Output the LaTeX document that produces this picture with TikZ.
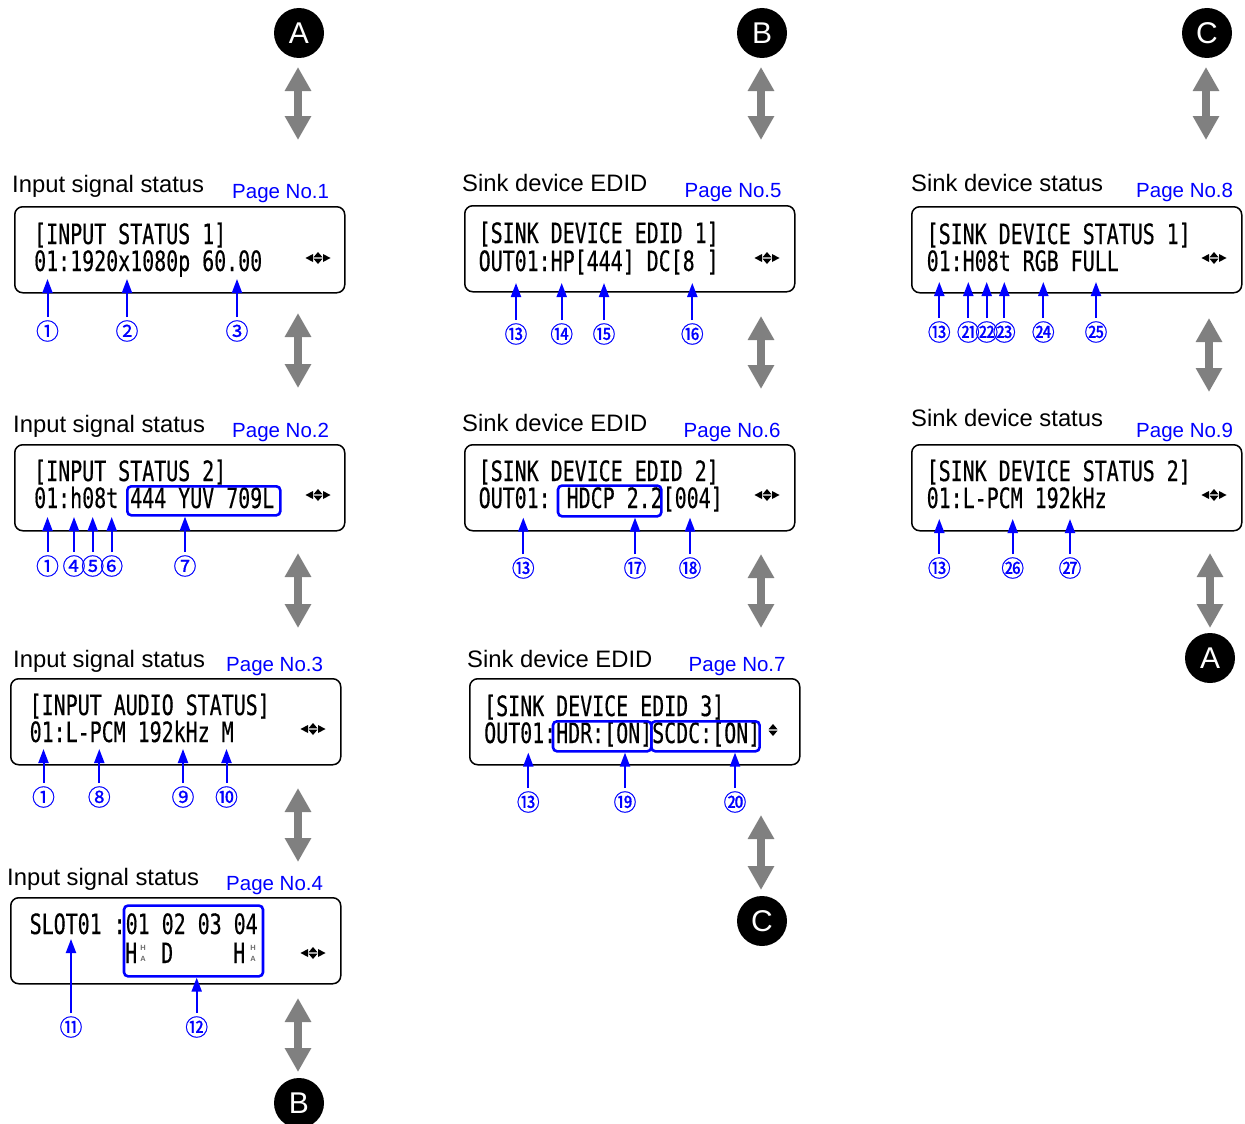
\documentclass[tikz,border=0pt]{standalone}
\usepackage{fontspec}
\setmainfont{Liberation Sans}
\newfontfamily\lcdfont[FakeStretch=0.712,FakeBold=0.4,WordSpace={1,0,0}]{DejaVu Sans Mono}
\newfontfamily\cjk[FakeBold=0.6]{Noto Sans CJK JP}
\usepackage{tikz}
\usetikzlibrary{positioning,arrows.meta,calc}
\definecolor{ksblue}{HTML}{0000FF}
\definecolor{ksgray}{HTML}{808080}
\definecolor{kssmall}{HTML}{6A6A6A}

\begin{document}
\begin{tikzpicture}[
  x=1pt, y=-1pt,
  lcd/.style={draw, line width=1.5pt, rounded corners=8pt, anchor=north west,
    minimum width=330pt, minimum height=86pt, inner sep=0pt},
  lcdtxt/.style={anchor=base west, inner sep=0pt, font=\lcdfont\fontsize{28}{28}\selectfont},
  title/.style={anchor=base west, inner sep=0pt, font=\fontsize{23.8}{24}\selectfont},
  pageno/.style={anchor=base west, inner sep=0pt, text=ksblue, font=\fontsize{20.5}{21}\selectfont},
  hlbox/.style={draw=ksblue, line width=2.6pt, rounded corners=4pt, anchor=north west, inner sep=0pt},
  num/.style={text=ksblue, inner sep=0pt, font=\cjk\fontsize{23}{23}\selectfont},
  ptr/.style={ksblue, line width=2pt, -{Triangle[width=10pt,length=14pt]}},
  letter/.style={circle, fill=black, text=white, minimum size=50pt, inner sep=0pt,
    font=\fontsize{30}{30}\selectfont},
  updown/.style={ksgray, line width=7.5pt,
    {Triangle[width=25pt,length=24pt]}-{Triangle[width=25pt,length=24pt]}},
  hatxt/.style={text=kssmall, align=center, inner sep=0pt, font=\bfseries\fontsize{7.5}{11}\selectfont},
  navall/.pic={
    \fill (-12.5,0) -- (-5,-4) -- (-5,4) -- cycle;
    \fill (-4.5,-0.7) -- (0,-6) -- (4.5,-0.7) -- cycle;
    \fill (-4.5,0.7) -- (0,6) -- (4.5,0.7) -- cycle;
    \fill (12.5,0) -- (5,-4) -- (5,4) -- cycle;},
  navud/.pic={
    \fill (-4.5,-0.7) -- (0,-6) -- (4.5,-0.7) -- cycle;
    \fill (-4.5,0.7) -- (0,6) -- (4.5,0.7) -- cycle;},
  ]
  \useasboundingbox (0,0) rectangle (1245,1124);

  % jump markers
  \node[letter] (la1) at (299,33) {A};
  \node[letter] (lb1) at (762,33) {B};
  \node[letter] (lc1) at (1207,33) {C};
  \node[letter] (lb2) at (299,1103) {B};
  \node[letter] (lc2) at (762,921) {C};
  \node[letter] (la2) at (1210,658) {A};
  \foreach \x/\a/\b in {298/67/140, 298/313/388, 298/553/628, 298/788/862, 298/998/1072,
    761/67/140, 761/316/389, 761/554/628, 761/815/890,
    1206/67/140, 1209/318/392, 1210/553/628}
    \draw[updown] (\x,\a) -- (\x,\b);

  % page 1
  \node[lcd] (p1) at (14,206) {};
  \node[title] (p1t) at (12,192) {Input signal status};
  \node[pageno] (p1p) at (232,198) {Page No.1};
  \node[lcdtxt] (p1a) at (34,244) {[INPUT STATUS 1]};
  \node[lcdtxt] (p1b) at (34,271) {01:1920x1080p 60.00};
  \pic at (318,258) {navall};
  \coordinate (p1tip) at (0,279);
  \foreach \x/\n [count=\i] in {47.5/①,127/②,237/③} {
    \node[num] (p1n\i) at (\x,331) {\n};
    \draw[ptr] ([yshift=14pt]p1n\i.center) -- (p1n\i |- p1tip);
  }

  % page 2
  \node[lcd] (p2) at (14,444) {};
  \node[title] (p2t) at (13,432) {Input signal status};
  \node[pageno] (p2p) at (232,437) {Page No.2};
  \node[lcdtxt] (p2a) at (34,481) {[INPUT STATUS 2]};
  \node[lcdtxt] (p2b) at (34,508) {01:h08t 444 YUV 709L};
  \node[hlbox, minimum width=153pt, minimum height=29pt] (p2hl) at (126,485) {};
  \pic at (318,495) {navall};
  \coordinate (p2tip) at (0,517);
  \foreach \x/\n [count=\i] in {47.5/①,74/④,92.7/⑤,111.7/⑥} {
    \node[num] (p2n\i) at (\x,566) {\n};
    \draw[ptr] ([yshift=14pt]p2n\i.center) -- (p2n\i |- p2tip);
  }
  \node[num] (p2n5) at (185,566) {⑦};
  \draw[ptr] ([yshift=14pt]p2n5.center) -- (p2n5 |- p2hl.south);

  % page 3
  \node[lcd] (p3) at (10,678) {};
  \node[title] (p3t) at (13,667) {Input signal status};
  \node[pageno] (p3p) at (226,671) {Page No.3};
  \node[lcdtxt] (p3a) at (29.5,715) {[INPUT AUDIO STATUS]};
  \node[lcdtxt] (p3b) at (29.5,742) {01:L-PCM 192kHz M};
  \pic at (313,729) {navall};
  \coordinate (p3tip) at (0,749);
  \foreach \x/\n [count=\i] in {43.5/①,99.3/⑧,183/⑨,226.5/⑩} {
    \node[num] (p3n\i) at (\x,797) {\n};
    \draw[ptr] ([yshift=14pt]p3n\i.center) -- (p3n\i |- p3tip);
  }

  % page 4
  \node[lcd] (p4) at (10,897) {};
  \node[title] (p4t) at (7,885) {Input signal status};
  \node[pageno] (p4p) at (226,890) {Page No.4};
  \node[lcdtxt] (p4a) at (29.5,934) {SLOT01 :01 02 03 04};
  \node[lcdtxt] (p4h1) at (125,963) {H};
  \node[hatxt] (p4ha1) at (143,953) {H\\A};
  \node[lcdtxt] (p4d) at (161,963) {D};
  \node[lcdtxt] (p4h2) at (233,963) {H};
  \node[hatxt] (p4ha2) at (253,953) {H\\A};
  \node[hlbox, minimum width=139pt, minimum height=70.7pt] (p4hl) at (122.7,904.3) {};
  \pic at (313,953) {navall};
  \coordinate (p4tip) at (0,939);
  \node[num] (p4n1) at (71,1027) {⑪};
  \draw[ptr] ([yshift=14pt]p4n1.center) -- (p4n1 |- p4tip);
  \node[num] (p4n2) at (196.7,1027) {⑫};
  \draw[ptr] ([yshift=14pt]p4n2.center) -- (p4n2 |- p4hl.south);

  % page 5
  \node[lcd] (p5) at (464,205) {};
  \node[title] (p5t) at (462,191) {Sink device EDID};
  \node[pageno] (p5p) at (684.5,197) {Page No.5};
  \node[lcdtxt] (p5a) at (478.5,243) {[SINK DEVICE EDID 1]};
  \node[lcdtxt] (p5b) at (478.5,271) {OUT01:HP[444] DC[8 ]};
  \pic at (767,258) {navall};
  \coordinate (p5tip) at (0,283);
  \foreach \x/\n [count=\i] in {516/⑬,561.7/⑭,604/⑮,692.3/⑯} {
    \node[num] (p5n\i) at (\x,334) {\n};
    \draw[ptr] ([yshift=14pt]p5n\i.center) -- (p5n\i |- p5tip);
  }

  % page 6
  \node[lcd] (p6) at (464,444) {};
  \node[title] (p6t) at (462,431) {Sink device EDID};
  \node[pageno] (p6p) at (683.5,437) {Page No.6};
  \node[lcdtxt] (p6a) at (478.5,481) {[SINK DEVICE EDID 2]};
  \node[lcdtxt] (p6b) at (478.5,508) {OUT01: HDCP 2.2[004]};
  \node[hlbox, minimum width=103.3pt, minimum height=30.7pt] (p6hl) at (556.7,484.3) {};
  \pic at (767,495) {navall};
  \node[num] (p6n1) at (523.3,568) {⑬};
  \draw[ptr] ([yshift=14pt]p6n1.center) -- (p6n1 |- p6hl.south);
  \node[num] (p6n2) at (635,568) {⑰};
  \draw[ptr] ([yshift=14pt]p6n2.center) -- (p6n2 |- p6hl.south);
  \node[num] (p6n3) at (690,568) {⑱};
  \draw[ptr] ([yshift=14pt]p6n3.center) -- (p6n3 |- p6hl.south);

  % page 7
  \node[lcd] (p7) at (469,678) {};
  \node[title] (p7t) at (467,667) {Sink device EDID};
  \node[pageno] (p7p) at (688.5,671) {Page No.7};
  \node[lcdtxt] (p7a) at (484,716) {[SINK DEVICE EDID 3]};
  \node[lcdtxt] (p7b) at (484,743) {OUT01:HDR:[ON]SCDC:[ON]};
  \node[hlbox, minimum width=98.3pt, minimum height=30pt] (p7hl1) at (551.7,720) {};
  \node[hlbox, minimum width=108.3pt, minimum height=30pt] (p7hl2) at (650,720) {};
  \pic at (773,730) {navud};
  \node[num] (p7n1) at (528.3,802) {⑬};
  \draw[ptr] ([yshift=14pt]p7n1.center) -- (p7n1 |- p7hl1.south);
  \node[num] (p7n2) at (625,802) {⑲};
  \draw[ptr] ([yshift=14pt]p7n2.center) -- (p7n2 |- p7hl1.south);
  \node[num] (p7n3) at (735,802) {⑳};
  \draw[ptr] ([yshift=14pt]p7n3.center) -- (p7n3 |- p7hl2.south);

  % page 8
  \node[lcd] (p8) at (911,206) {};
  \node[title] (p8t) at (911,191) {Sink device status};
  \node[pageno] (p8p) at (1136,197) {Page No.8};
  \node[lcdtxt] (p8a) at (926.5,244) {[SINK DEVICE STATUS 1]};
  \node[lcdtxt] (p8b) at (926.5,271) {01:H08t RGB FULL};
  \pic at (1214,258) {navall};
  \coordinate (p8tip) at (0,282);
  \foreach \x/\n [count=\i] in {939.3/⑬,968.3/㉑,986.7/㉒,1004.3/㉓,1043.3/㉔,1096/㉕} {
    \node[num] (p8n\i) at (\x,332) {\n};
    \draw[ptr] ([yshift=14pt]p8n\i.center) -- (p8n\i |- p8tip);
  }

  % page 9
  \node[lcd] (p9) at (911,444) {};
  \node[title] (p9t) at (911,426) {Sink device status};
  \node[pageno] (p9p) at (1136,437) {Page No.9};
  \node[lcdtxt] (p9a) at (926.5,481) {[SINK DEVICE STATUS 2]};
  \node[lcdtxt] (p9b) at (926.5,508) {01:L-PCM 192kHz};
  \pic at (1214,495) {navall};
  \coordinate (p9tip) at (0,519);
  \foreach \x/\n [count=\i] in {939.3/⑬,1012.7/㉖,1070/㉗} {
    \node[num] (p9n\i) at (\x,568) {\n};
    \draw[ptr] ([yshift=14pt]p9n\i.center) -- (p9n\i |- p9tip);
  }
\end{tikzpicture}
\end{document}
